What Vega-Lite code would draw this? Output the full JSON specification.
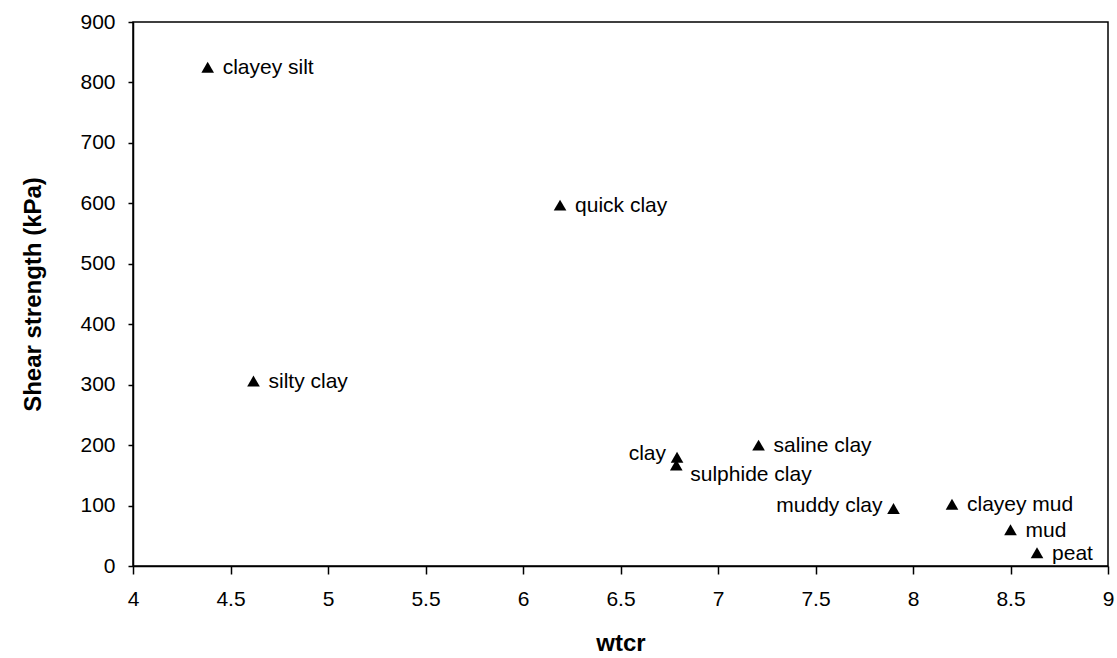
{
  "$schema": "https://vega.github.io/schema/vega-lite/v6.json",
  "autosize": "none",
  "width": 975,
  "height": 544,
  "padding": {"left": 133, "top": 22, "right": 9, "bottom": 92},
  "background": "white",
  "config": {
    "font": "Liberation Sans",
    "view": {"stroke": "black", "strokeWidth": 1.5},
    "axis": {"grid": false, "domainColor": "black", "tickColor": "black", "labelColor": "black", "titleColor": "black", "labelFont": "Liberation Sans", "titleFont": "Liberation Sans", "labelFontSize": 21, "titleFontSize": 24, "titleFontWeight": "bold", "domainWidth": 1.5, "tickWidth": 1.5}
  },
  "data": {
    "values": [
      {"soil": "clayey silt", "wtcr": 4.383, "strength": 825, "side": "right"},
      {"soil": "quick clay", "wtcr": 6.19, "strength": 597, "side": "right"},
      {"soil": "silty clay", "wtcr": 4.618, "strength": 306, "side": "right"},
      {"soil": "clay", "wtcr": 6.79, "strength": 180, "side": "left"},
      {"soil": "sulphide clay", "wtcr": 6.786, "strength": 167, "side": "below"},
      {"soil": "saline clay", "wtcr": 7.208, "strength": 200, "side": "right"},
      {"soil": "muddy clay", "wtcr": 7.9, "strength": 95, "side": "left"},
      {"soil": "clayey mud", "wtcr": 8.2, "strength": 102, "side": "right"},
      {"soil": "mud", "wtcr": 8.5, "strength": 60, "side": "right"},
      {"soil": "peat", "wtcr": 8.636, "strength": 22, "side": "right"}
    ]
  },
  "encoding": {
    "x": {
      "field": "wtcr", "type": "quantitative",
      "scale": {"domain": [4, 9], "nice": false, "zero": false},
      "axis": {"values": [4, 4.5, 5, 5.5, 6, 6.5, 7, 7.5, 8, 8.5, 9], "format": "~g", "tickSize": 8, "labelPadding": 14, "title": "wtcr", "titlePadding": 22, "labelFlush": false}
    },
    "y": {
      "field": "strength", "type": "quantitative",
      "scale": {"domain": [0, 900], "nice": false},
      "axis": {"values": [0, 100, 200, 300, 400, 500, 600, 700, 800, 900], "tickSize": 5, "labelPadding": 13, "title": "Shear strength (kPa)", "titlePadding": 34, "labelFlush": false}
    }
  },
  "layer": [
    {
      "mark": {"type": "point", "shape": "triangle-up", "filled": true, "color": "black", "opacity": 1, "size": 160}
    },
    {
      "transform": [{"filter": "datum.side === 'right'"}],
      "mark": {"type": "text", "align": "left", "baseline": "middle", "dx": 15, "dy": 1, "fontSize": 21, "color": "black"},
      "encoding": {"text": {"field": "soil"}}
    },
    {
      "transform": [{"filter": "datum.side === 'left'"}],
      "mark": {"type": "text", "align": "right", "baseline": "middle", "dx": -11, "dy": -3, "fontSize": 21, "color": "black"},
      "encoding": {"text": {"field": "soil"}}
    },
    {
      "transform": [{"filter": "datum.side === 'below'"}],
      "mark": {"type": "text", "align": "left", "baseline": "middle", "dx": 14, "dy": 10, "fontSize": 21, "color": "black"},
      "encoding": {"text": {"field": "soil"}}
    }
  ]
}
